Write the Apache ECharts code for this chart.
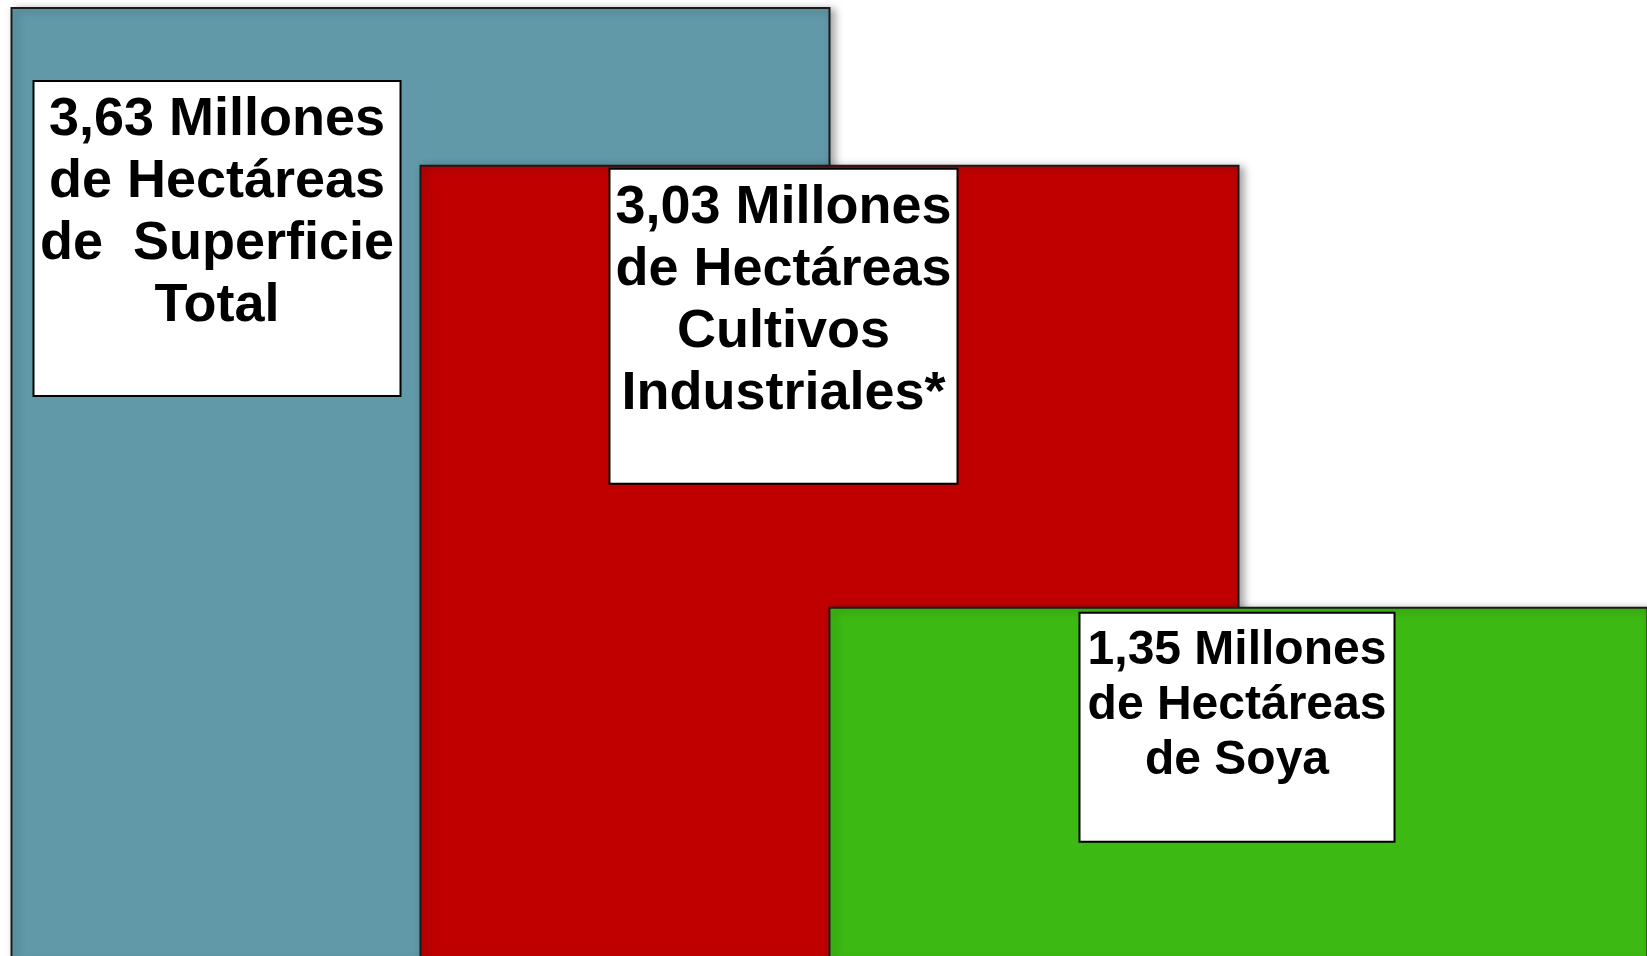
<!DOCTYPE html>
<html>
<head>
<meta charset="utf-8">
<title>Superficie</title>
<script src="https://cdn.jsdelivr.net/npm/echarts@6/dist/echarts.min.js"></script>
<style>
  html, body { margin: 0; padding: 0; background: #fff; }
  #chart { width: 1647px; height: 956px; }
</style>
</head>
<body>
<div id="chart"></div>
<script>
// millones de hectáreas
const categories = ['Superficie Total', 'Cultivos Industriales', 'Soya']
const values = [3.63, 3.03, 1.35]
const labelLines = [
  ['3,63 Millones', 'de Hectáreas', 'de  Superficie', 'Total'],
  ['3,03 Millones', 'de Hectáreas', 'Cultivos', 'Industriales*'],
  ['1,35 Millones', 'de Hectáreas', 'de Soya']
]

const colors = ['#6199a8', '#c00000', '#3cb913']
// label box placement, relative to each bar's top-left corner
const boxes = [
  { pos: [206.5, 75], width: 365, height: 306, pad: 7, size: 54, lh: 62 },
  { pos: [364, 5], width: 346, height: 306, pad: 7, size: 54, lh: 62 },
  { pos: [408.5, 7], width: 313, height: 218, pad: 9, size: 48, lh: 55 }
]

const chart = echarts.init(document.getElementById('chart'))

const seriesData = values.map((v, i) => ({
  value: v,
  itemStyle: { color: colors[i] },
  label: {
    show: true,
    formatter: labelLines[i].join('\n'),
    position: boxes[i].pos,
    align: 'center',
    verticalAlign: 'top',
    width: boxes[i].width,
    height: boxes[i].height,
    padding: [boxes[i].pad, 0, 0, 0],
    fontSize: boxes[i].size,
    lineHeight: boxes[i].lh
  }
}))

chart.setOption({
  backgroundColor: '#ffffff',
  animation: false,
  grid: {
    left: 216,
    right: 204,
    top: 7,
    bottom: -6,
    outerBoundsMode: 'none'
  },
  xAxis: {
    type: 'category',
    data: categories,
    show: false
  },
  yAxis: {
    type: 'value',
    min: 0,
    max: 3.63,
    show: false,
    splitLine: { show: false }
  },
  series: [{
    type: 'bar',
    data: seriesData,
    barWidth: 820,
    clip: false,
    itemStyle: {
      borderColor: '#1a1a1a',
      borderWidth: 2,
      shadowColor: 'rgba(0,0,0,0.35)',
      shadowBlur: 8,
      shadowOffsetX: 4,
      shadowOffsetY: 2
    },
    label: {
      color: '#000',
      fontFamily: '"Liberation Sans", Arial, sans-serif',
      fontWeight: 'bold',
      backgroundColor: '#ffffff',
      borderColor: '#000',
      borderWidth: 2
    },
    emphasis: { disabled: true }
  }]
})
</script>
</body>
</html>
